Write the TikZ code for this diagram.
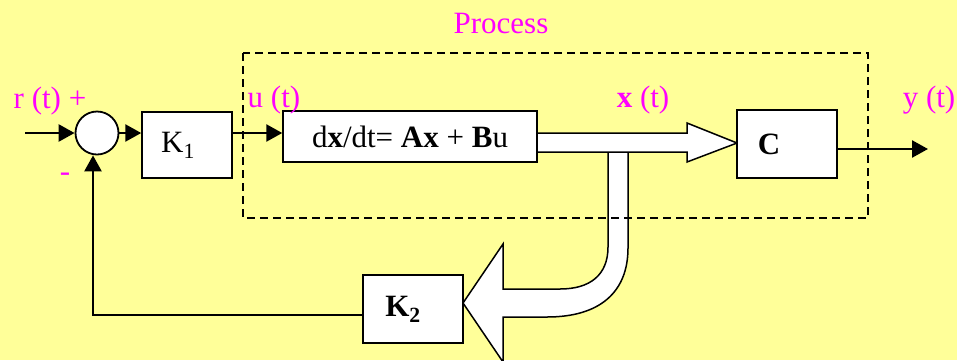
\documentclass[tikz,border=0pt]{standalone}
\usepackage{fontspec}
\setmainfont{Liberation Serif}
\usetikzlibrary{arrows.meta}

\definecolor{slidebg}{RGB}{255,255,153}
\definecolor{sigmag}{RGB}{255,0,255}

\tikzset{
  blockbox/.style={draw, fill=white, line width=1.5pt, inner sep=0pt},
  sumnode/.style={draw, circle, fill=white, line width=1.8pt, minimum size=43pt, inner sep=0pt},
  signal/.style={line width=2.5pt, -{Triangle[length=16pt,width=17pt]}},
  sigtext/.style={text=sigmag, anchor=base, inner sep=0pt},
  fatarrow/.style={draw, fill=white, line width=1.5pt, line join=miter},
  procbox/.style={draw, line width=1.5pt, dash pattern=on 8pt off 5pt},
}

\begin{document}
\begin{tikzpicture}[x=1pt, y=-1pt, font=\fontsize{31}{37}\selectfont]
    \fill[slidebg] (0,0) rectangle (957,360);
    \useasboundingbox (0,0) rectangle (957,360);

    % blocks
    \node[sumnode] (sum) at (97,133) {};
    \node[blockbox, minimum width=90pt, minimum height=66pt,
          label={[xshift=-9pt]center:K\textsubscript{1}}] (k1) at (187,145) {};
    \node[blockbox, minimum width=254pt, minimum height=51pt] (dyn) at (410,136.5)
          {d\textbf{x}/dt= \textbf{Ax} + \textbf{B}u\hspace{6pt}};

    % state branch down to K2
    \draw[fatarrow] (608,152) -- (608,247)
        .. controls (608,275) and (590,289) .. (560,289)
        -- (503,289) -- (503,244) -- (463,303) -- (503,362) -- (503,317)
        -- (547,317) .. controls (600,317) and (628,292) .. (628,248)
        -- (628,152) -- cycle;
    % state arrow into C
    \draw[fatarrow] (537,133) -- (687,133) -- (687,123) -- (737,143)
        -- (687,162) -- (687,152) -- (537,152) -- cycle;

    \node[blockbox, minimum width=100pt, minimum height=68pt,
          label={[xshift=-18pt]center:\textbf{C}}] (c) at (787,144) {};
    \node[blockbox, minimum width=100pt, minimum height=68pt,
          label={[xshift=-10pt]center:\textbf{K\textsubscript{2}}}] (k2) at (413,309) {};

    \coordinate (rin) at (25,133);
    \coordinate (yout) at (928,149);

    % signals
    \draw[signal] (rin) -- (sum.west);
    \draw[signal] (sum.east) -- (sum.east -| k1.west);
    \draw[signal] (k1.east |- sum.east) -- (sum.east -| dyn.west);
    \draw[signal] (c.east |- yout) -- (yout);
    \draw[signal] (k2.west) ++(0,6) -| ([xshift=-4pt]sum.south);

    % labels
    \node[sigtext] (plbl) at (501,33) {Process};
    \node[sigtext] (rlbl) at (50,108) {r (t) +};
    \node[sigtext] (minus) at (65,181) {-};
    \node[sigtext] (ulbl) at (274,107) {u (t)};
    \node[sigtext] (xlbl) at (643,107) {\textbf{x} (t)};
    \node[sigtext] (ylbl) at (929,107) {y (t)};

    \draw[procbox] (243,53) rectangle (868,218);
\end{tikzpicture}
\end{document}
